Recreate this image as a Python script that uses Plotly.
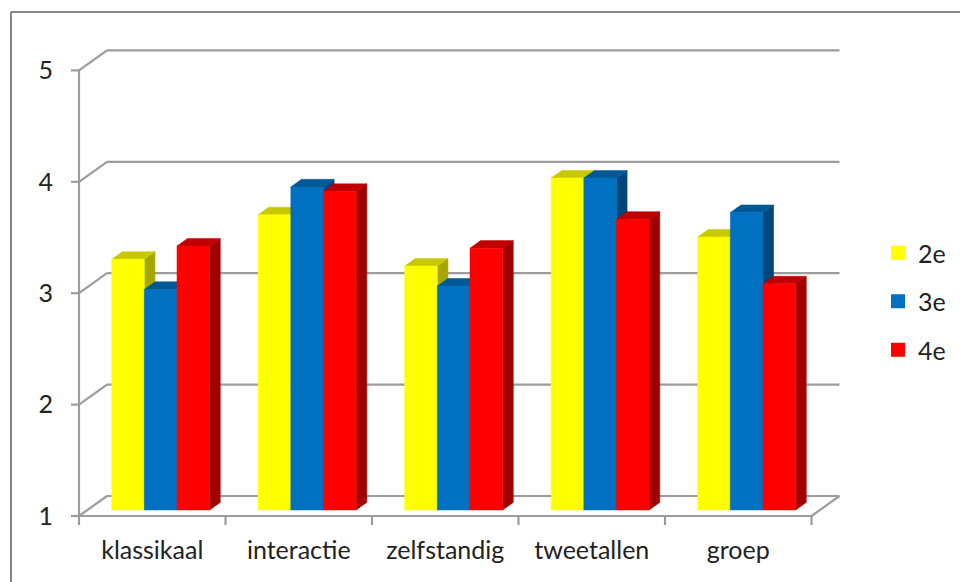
import plotly.graph_objects as go

# ---- data ----
categories = ["klassikaal", "interactie", "zelfstandig", "tweetallen", "groep"]
series_names = ["2e", "3e", "4e"]
s_2e = [3.25, 3.65, 3.19, 3.98, 3.45]
s_3e = [2.98, 3.90, 3.01, 3.98, 3.67]
s_4e = [3.37, 3.86, 3.35, 3.61, 3.03]
y_ticks = [1, 2, 3, 4, 5]

series_values = [s_2e, s_3e, s_4e]
front_colors = ["#FFFF00", "#0070C0", "#FF0000"]
top_colors = ["#C8C800", "#005896", "#C00000"]
side_colors = ["#A6A600", "#00467A", "#A00000"]

# ---- geometry (pixels -> data units) ----
W, H = 960, 582
UX = 146.5   # px per category
UY = 111.4   # px per value unit
ORIG_X, ORIG_Y = 79, 516  # pixel of front-plane (x=-0.5, y=1)
PL, PR, PT, PB = 66, 958, 44, 528  # plot box in px

xmin = -0.5 - (ORIG_X - PL) / UX
xmax = -0.5 + (PR - ORIG_X) / UX
ymin = 1 - (PB - ORIG_Y) / UY
ymax = 1 + (ORIG_Y - PT) / UY

def px_x(p):  # pixel -> paper fraction
    return (p - PL) / (PR - PL)

def px_y(p):
    return (PB - p) / (PB - PT)

DX = 28 / UX   # full depth offset
DY = 20 / UY
Z0, Z1 = 0.3, 0.68
GROUP = 0.669
BW = GROUP / 3
ncat = len(categories)
ymin_v, ymax_v = y_ticks[0], y_ticks[-1]

fig = go.Figure()
GRID = dict(color="#9c9c9c", width=2.2)

def seg_trace(segs, line):
    xs, ys = [], []
    for (a, b), (c, d) in segs:
        xs += [a, c, None]
        ys += [b, d, None]
    return go.Scatter(x=xs, y=ys, mode="lines", line=line,
                      hoverinfo="skip", showlegend=False)

left = -0.5
right = ncat - 0.5
segs = []
for v in y_ticks:
    segs.append(((left + DX, v + DY), (right + DX, v + DY)))   # back wall gridline
    segs.append(((left, v), (left + DX, v + DY)))              # left wall diagonal
    segs.append(((left - 8 / UX, v), (left, v)))               # y tick mark
segs.append(((right, ymin_v), (right + DX, ymin_v + DY)))      # right floor diagonal
segs.append(((left, ymin_v), (right, ymin_v)))                 # front floor
segs.append(((left, ymin_v), (left, ymax_v)))                  # front vertical axis
for k in range(ncat + 1):
    b = k - 0.5
    segs.append(((b, ymin_v), (b, ymin_v - 9 / UY)))           # category tick marks
fig.add_trace(seg_trace(segs, GRID))

def poly(xs, ys, color):
    return go.Scatter(x=xs + [xs[0]], y=ys + [ys[0]], fill="toself",
                      fillcolor=color, mode="lines",
                      line=dict(color=color, width=0.5),
                      hoverinfo="skip", showlegend=False)

dx = (Z1 - Z0) * DX
dy = (Z1 - Z0) * DY
for i in range(ncat):
    for j, vals in enumerate(series_values):
        v = vals[i]
        x0 = i - GROUP / 2 + j * BW + Z0 * DX
        x1 = x0 + BW
        yb = ymin_v + Z0 * DY
        yt = v + Z0 * DY
        # side face
        fig.add_trace(poly([x1, x1 + dx, x1 + dx, x1],
                           [yb, yb + dy, yt + dy, yt], side_colors[j]))
        # top face
        fig.add_trace(poly([x0, x1, x1 + dx, x0 + dx],
                           [yt, yt, yt + dy, yt + dy], top_colors[j]))
        # front face
        fig.add_trace(poly([x0, x1, x1, x0], [yb, yb, yt, yt], front_colors[j]))

# legend entries
for j, name in enumerate(series_names):
    fig.add_trace(go.Scatter(x=[None], y=[None], mode="markers", name=name,
                             legendgroup=name,
                             marker=dict(symbol="square", size=14,
                                         color=front_colors[j])))

FONT = "Lato, 'Open Sans', sans-serif"
TXT = "#222222"
FS = 25
fig.update_layout(
    width=W, height=H,
    margin=dict(l=PL, r=W - PR, t=PT, b=H - PB),
    paper_bgcolor="white", plot_bgcolor="white",
    font=dict(family=FONT, size=FS, color=TXT),
    xaxis=dict(range=[xmin, xmax], showgrid=False, zeroline=False,
               showline=False, tickmode="array",
               tickvals=list(range(ncat)), ticktext=categories,
               ticks="", ticklabelstandoff=5,
               tickfont=dict(size=FS, family=FONT, color=TXT)),
    yaxis=dict(range=[ymin, ymax], showgrid=False, zeroline=False,
               showline=False, tickmode="array", tickvals=y_ticks,
               ticktext=[str(v) for v in y_ticks], ticks="",
               ticklabelstandoff=12,
               tickfont=dict(size=FS, family=FONT, color=TXT)),
    showlegend=True,
    legend=dict(x=px_x(878), y=px_y(230),
                xanchor="left", yanchor="top",
                bgcolor="rgba(0,0,0,0)", borderwidth=0,
                tracegroupgap=13, traceorder="grouped",
                font=dict(size=FS, family=FONT, color=TXT)),
    shapes=[
        dict(type="line", xref="paper", yref="paper",
             x0=px_x(11), x1=px_x(975), y0=px_y(12), y1=px_y(12),
             line=dict(color="#868686", width=2)),
        dict(type="line", xref="paper", yref="paper",
             x0=px_x(11), x1=px_x(11), y0=px_y(12), y1=px_y(600),
             line=dict(color="#868686", width=2)),
    ],
)

fig.write_html("out.html",
               config={"displayModeBar": False},
               post_script="document.body.style.margin='0';document.body.style.overflow='hidden';")
